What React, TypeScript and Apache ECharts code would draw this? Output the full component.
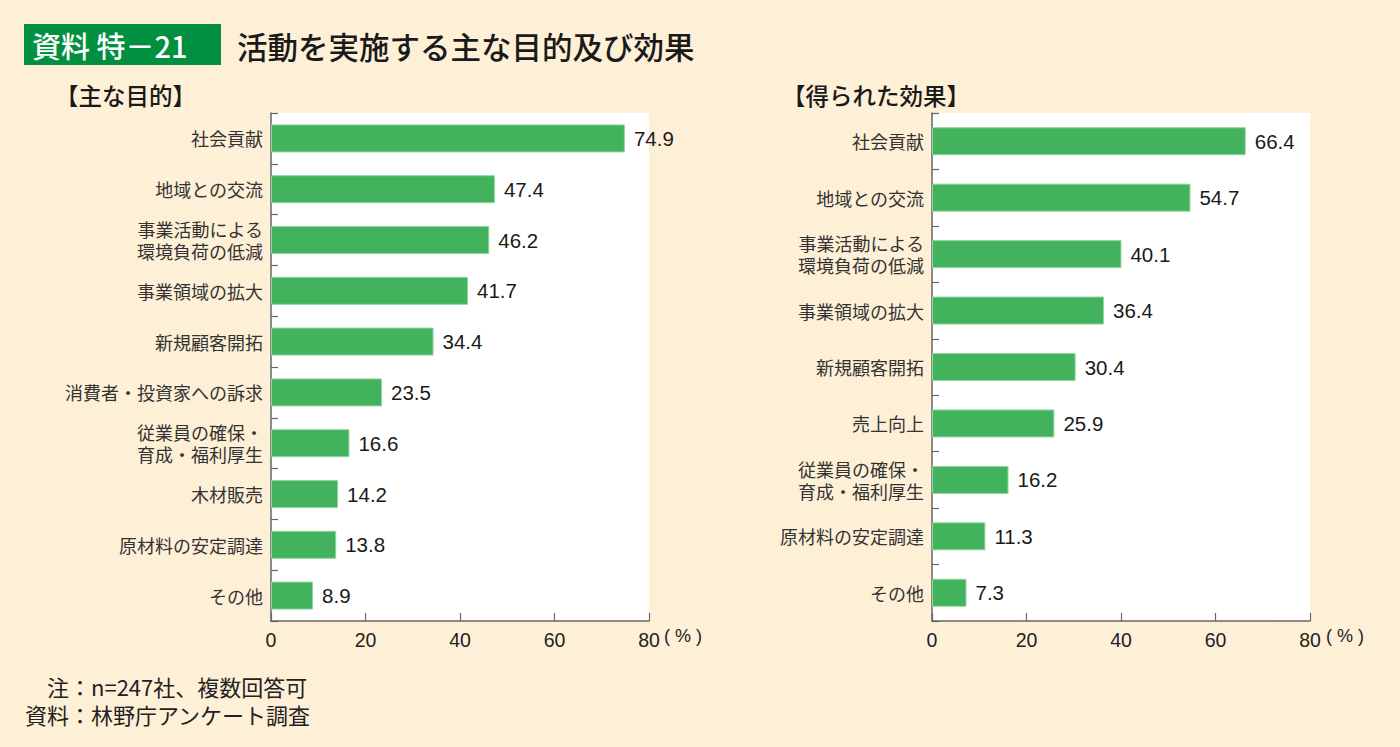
import React, { useEffect, useRef } from "react";
import * as echarts from "echarts";

const leftCategories = [
  "社会貢献",
  "地域との交流",
  "事業活動による\n環境負荷の低減",
  "事業領域の拡大",
  "新規顧客開拓",
  "消費者・投資家への訴求",
  "従業員の確保・\n育成・福利厚生",
  "木材販売",
  "原材料の安定調達",
  "その他",
];
const leftValues = [74.9, 47.4, 46.2, 41.7, 34.4, 23.5, 16.6, 14.2, 13.8, 8.9];

const rightCategories = [
  "社会貢献",
  "地域との交流",
  "事業活動による\n環境負荷の低減",
  "事業領域の拡大",
  "新規顧客開拓",
  "売上向上",
  "従業員の確保・\n育成・福利厚生",
  "原材料の安定調達",
  "その他",
];
const rightValues = [66.4, 54.7, 40.1, 36.4, 30.4, 25.9, 16.2, 11.3, 7.3];

const xMin = 0;
const xMax = 80;
const xInterval = 20;

const JP = '"Noto Sans CJK JP", "Noto Sans", sans-serif';
const NUM = '"Liberation Sans", Arial, sans-serif';
const AXIS_COLOR = "#666666";
const BAR_COLOR = "#43B25D";

function makeYAxis(gridIndex: number, data: string[]) {
  return {
    type: "category",
    gridIndex,
    data,
    inverse: true,
    axisLine: { show: true, lineStyle: { color: AXIS_COLOR, width: 1.5 } },
    axisTick: { show: true, inside: true, length: 7, lineStyle: { color: AXIS_COLOR, width: 1.2 } },
    axisLabel: {
      fontFamily: JP,
      fontSize: 18,
      color: "#333333",
      margin: 8,
      lineHeight: 22.5,
      align: "right",
    },
  };
}

function makeXAxis(gridIndex: number) {
  return {
    type: "value",
    gridIndex,
    min: xMin,
    max: xMax,
    interval: xInterval,
    axisLine: { show: true, lineStyle: { color: AXIS_COLOR, width: 1.5 } },
    axisTick: { show: true, inside: true, length: 8, lineStyle: { color: AXIS_COLOR, width: 1.2 } },
    splitLine: { show: false },
    axisLabel: { fontFamily: NUM, fontSize: 19.5, color: "#222222", margin: 9 },
  };
}

function makeSeries(index: number, values: number[]) {
  return {
    type: "bar",
    xAxisIndex: index,
    yAxisIndex: index,
    data: values,
    barWidth: 28,
    itemStyle: { color: BAR_COLOR, borderColor: "#8FD6A0", borderWidth: 1 },
    label: {
      show: true,
      position: "right",
      distance: 9,
      fontFamily: NUM,
      fontSize: 20.5,
      color: "#1a1a1a",
      formatter: (p: any) => Number(p.value).toFixed(1),
    },
  };
}

export default function App() {
  const ref = useRef<HTMLDivElement>(null);
  useEffect(() => {
    document.body.style.margin = "0";
    const chart = echarts.init(ref.current!, undefined, { renderer: "svg" });
    chart.setOption({
      animation: false,
      backgroundColor: "#FEF0D7",
      grid: [
        { left: 271, right: 751, top: 113, bottom: 126, show: true, backgroundColor: "#ffffff", borderWidth: 0 },
        { left: 932, right: 90, top: 113, bottom: 126, show: true, backgroundColor: "#ffffff", borderWidth: 0 },
      ],
      xAxis: [makeXAxis(0), makeXAxis(1)],
      yAxis: [makeYAxis(0, leftCategories), makeYAxis(1, rightCategories)],
      series: [makeSeries(0, leftValues), makeSeries(1, rightValues)],
      graphic: [
        { type: "rect", shape: { x: 24, y: 24, width: 197, height: 41 }, style: { fill: "#009040" } },
        {
          type: "text",
          x: 32,
          y: 45,
          style: { text: "資料 特－21", font: `500 29px ${JP}`, fill: "#ffffff", verticalAlign: "middle" },
        },
        {
          type: "text",
          x: 237,
          y: 46,
          style: { text: "活動を実施する主な目的及び効果", font: `500 30.5px ${JP}`, fill: "#1a1a1a", verticalAlign: "middle" },
        },
        {
          type: "text",
          x: 55,
          y: 95,
          style: { text: "【主な目的】", font: `500 23.5px ${JP}`, fill: "#1a1a1a", verticalAlign: "middle" },
        },
        {
          type: "text",
          x: 782,
          y: 95,
          style: { text: "【得られた効果】", font: `500 23.5px ${JP}`, fill: "#1a1a1a", verticalAlign: "middle" },
        },
        {
          type: "text",
          x: 664,
          y: 636,
          style: { text: "( % )", font: `18px ${NUM}`, fill: "#222222", verticalAlign: "middle" },
        },
        {
          type: "text",
          x: 1326,
          y: 636,
          style: { text: "( % )", font: `18px ${NUM}`, fill: "#222222", verticalAlign: "middle" },
        },
        {
          type: "text",
          x: 47,
          y: 686,
          style: { text: "注：n=247社、複数回答可", font: `22px ${JP}`, fill: "#222222", verticalAlign: "middle" },
        },
        {
          type: "text",
          x: 25,
          y: 714,
          style: { text: "資料：林野庁アンケート調査", font: `22px ${JP}`, fill: "#222222", verticalAlign: "middle" },
        },
      ],
    });
    return () => chart.dispose();
  }, []);
  return <div ref={ref} style={{ width: 1400, height: 747 }} />;
}
